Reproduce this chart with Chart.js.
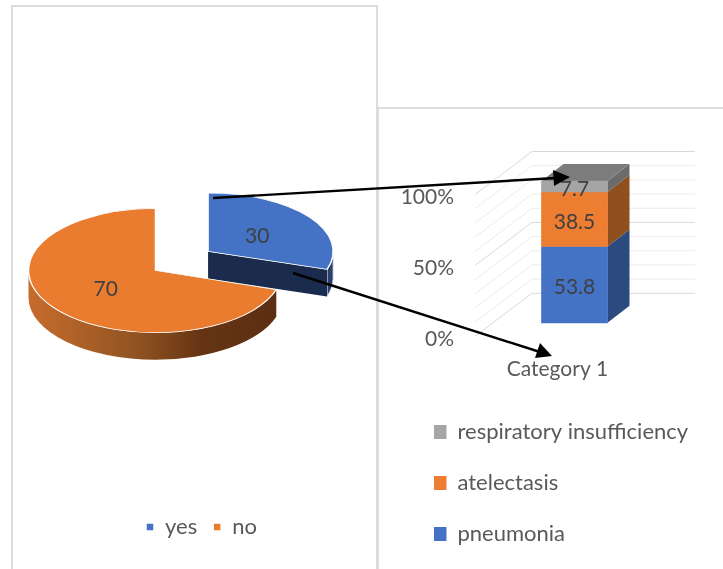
<!DOCTYPE html>
<html lang="en">
<head>
  <meta charset="UTF-8">
  <title>Complications</title>
  <script src="https://cdn.jsdelivr.net/npm/chart.js"></script>
  <style>
    html, body { margin: 0; background: #fff; overflow: hidden; }
    #page { position: relative; width: 723px; height: 569px; overflow: hidden; }
    .panel { position: absolute; box-sizing: border-box; border: 2px solid #dcdcdc; border-bottom: 0; background: #fff; }
    #leftPanel { left: 11px; top: 5px; width: 367px; height: 564px; }
    #rightPanel { left: 377px; top: 107px; width: 350px; height: 462px; }
    canvas { position: absolute; }
    #pieChart { left: 12px; top: 7px; }
    #barChart { left: 379px; top: 108px; }
    #arrows { position: absolute; left: 0; top: 0; }
  </style>
</head>
<body>
  <div id="page">
    <div class="panel" id="leftPanel"></div>
    <div class="panel" id="rightPanel"></div>
    <canvas id="pieChart" width="364" height="562"></canvas>
    <canvas id="barChart" width="344" height="461"></canvas>

    <!-- arrows linking the pie slice to the bar -->
    <svg id="arrows" width="723" height="569">
      <line x1="213" y1="198" x2="556" y2="178" stroke="#000" stroke-width="2.4"/>
      <polygon points="570,177 553,170 554,186" fill="#000"/>
      <line x1="293" y1="273" x2="540" y2="352" stroke="#000" stroke-width="2.4"/>
      <polygon points="552,356 540,343 535,358" fill="#000"/>
    </svg>
  </div>

  <script>
    const pieLabels = ['yes', 'no'];
    const pieValues = [30, 70];
    const pieColors = ['#4472c4', '#ea7c30'];

    const barCategories = ['Category 1'];
    const pneumonia = [53.8];
    const atelectasis = [38.5];
    const respiratory = [7.7];
    const percentTicks = [0, 50, 100];

    Chart.defaults.font.family = 'Lato';
    Chart.defaults.font.size = 21;
    Chart.defaults.color = '#595959';
    Chart.defaults.animation = false;

    // moves the legend to a fixed spot, the normal layout still reserves its room
    const legendAt = {
      id: 'legendAt',
      afterLayout(chart, args, opts) {
        const legend = chart.legend;
        const pad = legend.options.labels.padding;
        legend.left = opts.x - pad;
        legend.top = opts.y - pad;
        legend.right = chart.width;
        legend.bottom = chart.height;
      }
    };

    // pie: each slice gets flattened by its own tilt, the wall is drawn under it
    const PIE_X = 143.5, PIE_Y = 263.5, PIE_DEPTH = 27, BASE_TILT = 0.5;
    const sliceExplode = [65, 0];
    const sliceTilt = [0.46, 0.49];
    const sliceWidth = [0.985, 1];

    const pie3d = {
      id: 'pie3d',
      beforeDatasetsDraw(chart) {
        const ctx = chart.ctx;
        const arcs = chart.getDatasetMeta(0).data;

        arcs.forEach((arc, i) => {
          const mid = (arc.startAngle + arc.endAngle) / 2;
          const dx = Math.cos(mid) * sliceExplode[i];
          const dy = Math.sin(mid) * sliceExplode[i];
          const cx = PIE_X + dx;
          const cy = PIE_Y + dy * BASE_TILT;
          const rx = arc.outerRadius * sliceWidth[i];
          const ry = arc.outerRadius * sliceTilt[i];

          // outer wall, only the part facing front
          const from = Math.max(arc.startAngle, 0);
          const to = Math.min(arc.endAngle, Math.PI);
          if (to > from) {
            ctx.beginPath();
            ctx.ellipse(cx, cy, rx, ry, 0, from, to);
            ctx.ellipse(cx, cy + PIE_DEPTH, rx, ry, 0, to, from, true);
            ctx.closePath();
            if (i === 1) {
              const wall = ctx.createLinearGradient(cx - rx, 0, cx + rx * 0.96, 0);
              wall.addColorStop(0, '#c66c2c');
              wall.addColorStop(0.42, '#925522');
              wall.addColorStop(0.7, '#653413');
              wall.addColorStop(1, '#5c2e12');
              ctx.fillStyle = wall;
            } else {
              ctx.fillStyle = '#2a3f6a';
            }
            ctx.fill();
            ctx.strokeStyle = i === 0 ? '#e8ecf2' : 'transparent';
            ctx.lineWidth = 1;
            ctx.stroke();
          }

          // cut face of the exploded slice
          if (arc.endAngle < Math.PI / 2) {
            const ex = cx + Math.cos(arc.endAngle) * rx;
            const ey = cy + Math.sin(arc.endAngle) * ry;
            ctx.beginPath();
            ctx.moveTo(cx, cy);
            ctx.lineTo(ex, ey);
            ctx.lineTo(ex, ey + PIE_DEPTH);
            ctx.lineTo(cx, cy + PIE_DEPTH);
            ctx.closePath();
            ctx.fillStyle = '#1a2b4d';
            ctx.fill();
          }

          ctx.save();
          ctx.translate(cx, cy);
          ctx.scale(sliceWidth[i], sliceTilt[i]);
          ctx.translate(-arc.x, -arc.y);
          arc.draw(ctx);
          ctx.restore();

          ctx.font = '21px Lato';
          ctx.fillStyle = '#404040';
          ctx.textAlign = 'center';
          ctx.textBaseline = 'middle';
          ctx.fillText(pieValues[i], cx + Math.cos(mid) * rx * 0.485, cy + Math.sin(mid) * ry * 0.485 + 1);
        });
        return false;
      }
    };

    new Chart(document.getElementById('pieChart'), {
      type: 'pie',
      data: {
        labels: pieLabels,
        datasets: [{ data: pieValues, backgroundColor: pieColors, borderColor: '#fff', borderWidth: 1.5 }]
      },
      options: {
        responsive: false,
        radius: 127,
        plugins: {
          tooltip: { enabled: false },
          legend: {
            position: 'bottom',
            align: 'start',
            labels: { boxWidth: 8, boxHeight: 8, padding: 16, font: { size: 22 } }
          },
          legendAt: { x: 134, y: 509 }
        }
      },
      plugins: [legendAt, pie3d]
    });

    // bars sit partway into the floor, walls and bar faces all come from the scales
    const WALL_DX = 57, WALL_DY = 43, BAR_DX = 17, BAR_DY = -16, SIDE_DX = 22, SIDE_DY = 17;
    const sideColors = ['#2a4a80', '#8f4f1f', '#6b6b6b'];

    const bar3d = {
      id: 'bar3d',
      beforeDatasetsDraw(chart) {
        const ctx = chart.ctx;
        const y = chart.scales.y;
        const left = chart.chartArea.left;
        const right = chart.chartArea.right;

        y.ticks.forEach(t => {
          const py = y.getPixelForValue(t.value) - 2.5;
          ctx.beginPath();
          ctx.moveTo(left, py);
          ctx.lineTo(left + WALL_DX, py - WALL_DY);
          ctx.lineTo(right + WALL_DX - 2, py - WALL_DY);
          ctx.strokeStyle = percentTicks.includes(t.value) ? '#d9d9d9' : '#ebebeb';
          ctx.lineWidth = 1;
          ctx.stroke();
        });

        ctx.save();
        ctx.translate(BAR_DX, BAR_DY);
        chart.data.datasets.forEach((ds, i) => {
          const bar = chart.getDatasetMeta(i).data[0];
          const r = bar.x + bar.width / 2;
          const l = bar.x - bar.width / 2;

          ctx.fillStyle = sideColors[i];
          ctx.beginPath();
          ctx.moveTo(r, bar.y);
          ctx.lineTo(r + SIDE_DX, bar.y - SIDE_DY);
          ctx.lineTo(r + SIDE_DX, bar.base - SIDE_DY);
          ctx.lineTo(r, bar.base);
          ctx.closePath();
          ctx.fill();

          if (i === chart.data.datasets.length - 1) {
            ctx.fillStyle = '#7c7c7c';
            ctx.beginPath();
            ctx.moveTo(l, bar.y);
            ctx.lineTo(l + SIDE_DX, bar.y - SIDE_DY);
            ctx.lineTo(r + SIDE_DX, bar.y - SIDE_DY);
            ctx.lineTo(r, bar.y);
            ctx.closePath();
            ctx.fill();
          }
          bar.draw(ctx);
        });

        ctx.font = '21px Lato';
        ctx.fillStyle = '#404040';
        ctx.textAlign = 'center';
        ctx.textBaseline = 'middle';
        chart.data.datasets.forEach((ds, i) => {
          const bar = chart.getDatasetMeta(i).data[0];
          ctx.fillText(ds.data[0], bar.x, (bar.y + bar.base) / 2 + 3);
        });
        ctx.restore();
        return false;
      }
    };

    new Chart(document.getElementById('barChart'), {
      type: 'bar',
      data: {
        labels: barCategories,
        datasets: [
          { label: 'pneumonia', data: pneumonia, backgroundColor: '#4472c4', barThickness: 66 },
          { label: 'atelectasis', data: atelectasis, backgroundColor: '#ed7d31', barThickness: 66 },
          { label: 'respiratory insufficiency', data: respiratory, backgroundColor: '#a5a5a5', barThickness: 66 }
        ]
      },
      options: {
        responsive: false,
        layout: { padding: { top: 89, right: 83, bottom: 14 } },
        scales: {
          x: {
            stacked: true,
            grid: { display: false },
            border: { display: false },
            ticks: { padding: 10, maxRotation: 0 }
          },
          y: {
            stacked: true,
            min: 0,
            max: 100,
            grid: { display: false, drawTicks: false },
            border: { display: false },
            afterFit(scale) { scale.width = 96; },
            ticks: {
              stepSize: 10,
              padding: 21,
              autoSkip: false,
              callback: v => percentTicks.includes(v) ? v + '%' : ''
            }
          }
        },
        plugins: {
          tooltip: { enabled: false },
          legend: {
            position: 'bottom',
            align: 'start',
            reverse: true,
            labels: { boxWidth: 12.5, boxHeight: 14, padding: 29, font: { size: 22 } }
          },
          legendAt: { x: 55, y: 313 }
        }
      },
      plugins: [legendAt, bar3d]
    });
  </script>
</body>
</html>
